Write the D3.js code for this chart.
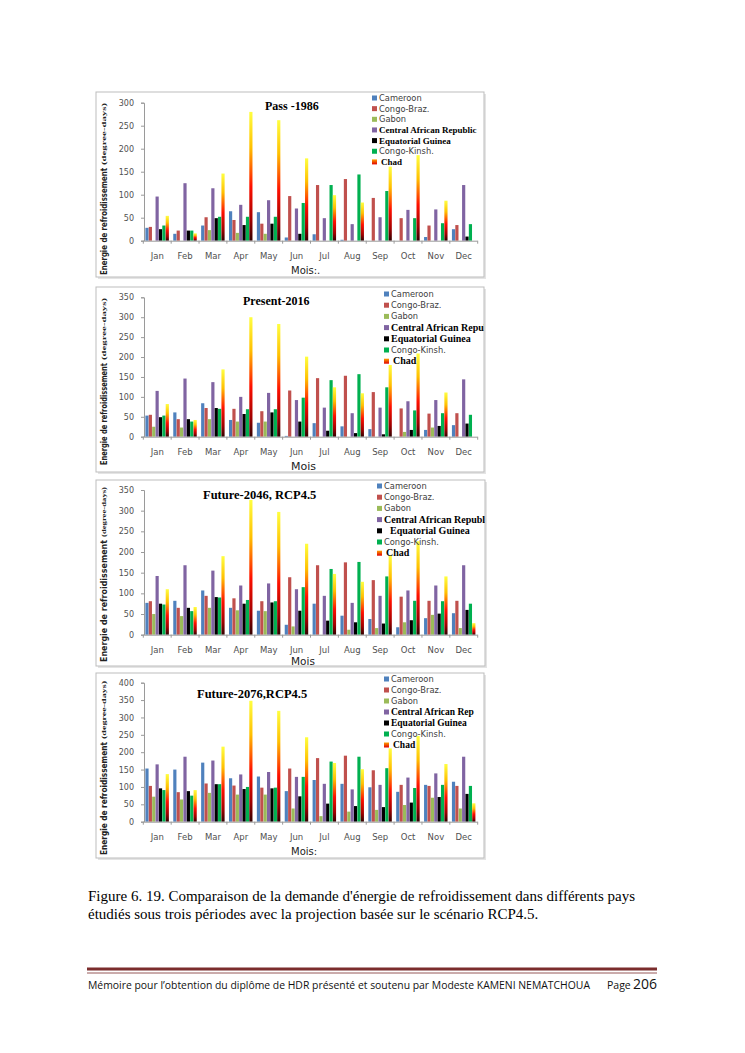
<!DOCTYPE html>
<html>
<head>
<meta charset="utf-8">
<script src="https://cdn.jsdelivr.net/npm/d3@7"></script>
<style>
  body { margin: 0; background: #fff; }
  .tick text { font-family: "DejaVu Sans", sans-serif; font-size: 8px; fill: #505050; }
  .domain, .tick line { stroke: #9a9a9a; }
</style>
</head>
<body>
<div id="page"></div>
<script>
// categories
var months = ["Jan", "Feb", "Mar", "Apr", "May", "Jun", "Jul", "Aug", "Sep", "Oct", "Nov", "Dec"];
var countries = ["Cameroon", "Congo-Braz.", "Gabon", "Central African Republic", "Equatorial Guinea", "Congo-Kinsh.", "Chad"];
var countries2076 = ["Cameroon", "Congo-Braz.", "Gabon", "Central African Rep", "Equatorial Guinea", "Congo-Kinsh.", "Chad"];

// values (degree-days), one row per country in the order above
var pass1986 = [
  [28, 15, 33, 64, 62, 7, 14, 2, 0, 0, 8, 25],
  [30, 22, 51, 45, 37, 97, 121, 134, 93, 49, 33, 34],
  [0, 0, 23, 17, 15, 0, 0, 0, 0, 0, 0, 0],
  [96, 125, 114, 78, 88, 70, 49, 36, 51, 67, 68, 121],
  [25, 22, 49, 34, 37, 15, 0, 0, 0, 0, 0, 9],
  [33, 22, 52, 52, 52, 82, 121, 144, 108, 49, 38, 36],
  [54, 16, 146, 280, 262, 179, 99, 83, 161, 186, 87, 0]
];
var present2016 = [
  [53, 61, 84, 42, 35, 2, 34, 26, 19, 0, 17, 29],
  [55, 44, 72, 70, 64, 116, 147, 153, 112, 71, 58, 59],
  [25, 23, 44, 38, 38, 0, 0, 0, 0, 12, 23, 0],
  [115, 146, 137, 100, 110, 92, 73, 59, 73, 89, 92, 144],
  [49, 44, 72, 57, 61, 38, 15, 9, 6, 17, 27, 33],
  [53, 38, 70, 69, 69, 98, 142, 157, 124, 66, 59, 55],
  [82, 42, 169, 300, 283, 201, 124, 109, 180, 209, 111, 0]
];
var future2046 = [
  [77, 82, 107, 65, 58, 24, 75, 46, 38, 18, 40, 52],
  [81, 65, 94, 88, 81, 139, 168, 175, 132, 92, 82, 82],
  [50, 45, 65, 59, 57, 20, 0, 12, 16, 30, 48, 16],
  [142, 168, 155, 119, 124, 110, 94, 77, 94, 107, 119, 168],
  [75, 65, 91, 75, 78, 58, 34, 30, 27, 35, 51, 60],
  [73, 57, 90, 84, 81, 115, 159, 176, 141, 82, 81, 75],
  [110, 67, 190, 326, 297, 220, 147, 128, 192, 226, 141, 28]
];
var future2076 = [
  [153, 150, 170, 125, 130, 88, 120, 109, 99, 86, 106, 115],
  [103, 85, 110, 104, 98, 153, 183, 190, 148, 106, 103, 103],
  [72, 64, 83, 78, 78, 38, 16, 29, 34, 48, 69, 38],
  [165, 187, 176, 136, 143, 129, 109, 93, 106, 127, 139, 187],
  [96, 88, 108, 94, 96, 73, 52, 45, 42, 55, 71, 80],
  [91, 75, 108, 100, 98, 129, 173, 187, 154, 97, 106, 103],
  [137, 91, 216, 348, 319, 243, 169, 151, 211, 247, 166, 53]
];

// tick labels
var ticks300 = [0, 50, 100, 150, 200, 250, 300];
var ticks350 = [0, 50, 100, 150, 200, 250, 300, 350];
var ticks400 = [0, 50, 100, 150, 200, 250, 300, 350, 400];

var colors = ["#4F81BD", "#C0504D", "#9BBB59", "#8064A2", "#000000", "#00B050", "url(#chadGrad)"];
var serifLabels = [false, false, false, true, true, false, true];

var svg = d3.select("#page")
  .append("svg")
  .attr("width", 745)
  .attr("height", 1053);

svg.append("rect").attr("width", 745).attr("height", 1053).attr("fill", "#fff");

var defs = svg.append("defs");

// Chad bars: yellow top -> red -> dark bottom
var grad = defs.append("linearGradient")
  .attr("id", "chadGrad")
  .attr("x1", 0).attr("y1", 0).attr("x2", 0).attr("y2", 1);
[["0%", "#FFFF40"], ["28%", "#FFC000"], ["58%", "#FF1000"], ["84%", "#A00000"], ["100%", "#300000"]]
  .forEach(function(s) {
    grad.append("stop").attr("offset", s[0]).attr("stop-color", s[1]);
  });

var legGrad = defs.append("linearGradient")
  .attr("id", "chadLeg")
  .attr("x1", 0).attr("y1", 0).attr("x2", 0).attr("y2", 1);
legGrad.append("stop").attr("offset", "0%").attr("stop-color", "#FFA000");
legGrad.append("stop").attr("offset", "100%").attr("stop-color", "#E00000");

// panel layout
var panels = [
  { title: "Pass -1986", data: pass1986, ticks: ticks300, names: countries,
    box: [96, 92, 484, 277], y0: 240.7, yTop: 102.7, titleX: 265, titleY: 110, titleSize: 12,
    legX: 372, legY: 98, legStep: 10.65, serifSize: 9, mois: "Mois:.", moisY: 274, moisSize: 10,
    labBottom: 275, labLen: 107, smallLen: 62 },
  { title: "Present-2016", data: present2016, ticks: ticks350, names: countries,
    box: [96, 287, 484, 472], y0: 436.7, yTop: 297.3, titleX: 243, titleY: 305, titleSize: 12,
    legX: 384, legY: 294, legStep: 11.2, serifSize: 10, mois: "Mois", moisY: 470, moisSize: 11,
    labBottom: 465, labLen: 102, smallLen: 62 },
  { title: "Future-2046, RCP4.5", data: future2046, ticks: ticks350, names: countries,
    box: [96, 480, 485, 666], y0: 634.7, yTop: 490, titleX: 203, titleY: 499, titleSize: 12.5,
    legX: 377, legY: 486, legStep: 11.2, serifSize: 10, mois: "Mois", moisY: 665, moisSize: 10.5,
    labBottom: 662, labLen: 122, smallLen: 50 },
  { title: "Future-2076,RCP4.5", data: future2076, ticks: ticks400, names: countries2076,
    box: [96, 673, 484, 858], y0: 821.7, yTop: 682.7, titleX: 197, titleY: 698, titleSize: 12.5,
    legX: 384, legY: 679, legStep: 11.0, serifSize: 9.5, mois: "Mois:", moisY: 855, moisSize: 10,
    labBottom: 855, labLen: 113, smallLen: 58 }
];

var axisX = 144;
var plotRight = 477;

panels.forEach(function(p, pi) {
  var b = p.box;

  // frame with a light shadow
  svg.append("rect")
    .attr("x", b[0] + 2).attr("y", b[1] + 2)
    .attr("width", b[2] - b[0]).attr("height", b[3] - b[1])
    .attr("fill", "#e4e4e4");
  svg.append("rect")
    .attr("x", b[0]).attr("y", b[1])
    .attr("width", b[2] - b[0]).attr("height", b[3] - b[1])
    .attr("fill", "#fff")
    .attr("stroke", "#bdbdbd");

  defs.append("clipPath").attr("id", "clip" + pi)
    .append("rect")
    .attr("x", b[0]).attr("y", b[1])
    .attr("width", b[2] - b[0]).attr("height", b[3] - b[1]);

  var g = svg.append("g").attr("clip-path", "url(#clip" + pi + ")");

  var maxV = p.ticks[p.ticks.length - 1];
  var y = d3.scaleLinear().domain([0, maxV]).range([p.y0, p.yTop]);
  var x0 = d3.scaleBand().domain(months).range([axisX, plotRight])
    .paddingInner(0.15).paddingOuter(0.05);
  var x1 = d3.scaleBand().domain(d3.range(countries.length)).range([0, x0.bandwidth()]);

  // bars
  var rows = [];
  p.data.forEach(function(vals, ci) {
    vals.forEach(function(v, mi) {
      rows.push({ c: ci, m: months[mi], v: v });
    });
  });
  g.append("g").selectAll("rect")
    .data(rows.filter(d => d.v > 0))
    .enter()
    .append("rect")
    .attr("x", d => x0(d.m) + x1(d.c))
    .attr("y", d => y(d.v))
    .attr("width", x1.bandwidth() - 0.2)
    .attr("height", d => p.y0 - y(d.v))
    .attr("fill", d => colors[d.c]);

  // y axis
  g.append("g")
    .attr("transform", `translate(${axisX},0)`)
    .call(d3.axisLeft(y).tickValues(p.ticks).tickSize(3).tickPadding(7));

  // x axis with boundary ticks
  var xAxis = g.append("g")
    .attr("transform", `translate(0,${p.y0})`)
    .call(d3.axisBottom(x0).tickSize(0).tickPadding(12));
  xAxis.selectAll(".tick text").style("font-size", "8.5px");
  var gap = (x0.step() - x0.bandwidth()) / 2;
  var bounds = months.map(m => x0(m) - gap).concat([x0(months[11]) + x0.bandwidth() + gap]);
  g.append("g").selectAll("line")
    .data(bounds)
    .enter()
    .append("line")
    .attr("x1", d => d).attr("x2", d => d)
    .attr("y1", p.y0).attr("y2", p.y0 + 3)
    .attr("stroke", "#9a9a9a");

  // title
  g.append("text")
    .attr("x", p.titleX).attr("y", p.titleY)
    .style("font-family", "'Liberation Serif', serif")
    .style("font-weight", "bold")
    .style("font-size", p.titleSize + "px")
    .text(p.title);

  // x label
  g.append("text")
    .attr("x", 291).attr("y", p.moisY)
    .style("font-family", "'DejaVu Sans', sans-serif")
    .style("font-size", p.moisSize + "px")
    .style("fill", "#222")
    .text(p.mois);

  // y label (rotated)
  g.append("text")
    .attr("transform", `translate(107,${p.labBottom}) rotate(-90)`)
    .attr("textLength", p.labLen)
    .attr("lengthAdjust", "spacingAndGlyphs")
    .style("font-family", "'DejaVu Sans', sans-serif")
    .style("font-weight", "bold")
    .style("font-size", "9.5px")
    .style("fill", "#222")
    .text("Energie de refroidissement");
  g.append("text")
    .attr("transform", `translate(106,${p.labBottom - p.labLen - 3}) rotate(-90)`)
    .attr("textLength", p.smallLen)
    .attr("lengthAdjust", "spacingAndGlyphs")
    .style("font-family", "'Liberation Serif', serif")
    .style("font-weight", "bold")
    .style("font-size", "6px")
    .style("fill", "#222")
    .text("(degree-days)");

  // legend
  var leg = g.append("g");
  p.names.forEach(function(name, i) {
    var ly = p.legY + i * p.legStep;
    leg.append("rect")
      .attr("x", p.legX).attr("y", ly - 2.5)
      .attr("width", 5).attr("height", 5)
      .attr("fill", i === 6 ? "url(#chadLeg)" : colors[i]);
    var t = leg.append("text")
      .attr("x", p.legX + 7 + (i === 4 && pi === 2 ? 6 : 0) + (i === 6 ? 2 : 0))
      .attr("y", ly + 3)
      .text(name);
    if (serifLabels[i]) {
      t.style("font-family", "'Liberation Serif', serif")
        .style("font-weight", "bold")
        .style("font-size", p.serifSize + "px")
        .style("fill", "#000");
    } else {
      t.style("font-family", "'DejaVu Sans', sans-serif")
        .style("font-size", "8.3px")
        .style("fill", "#404040");
    }
  });
});

// caption
var caption = ["Figure 6. 19. Comparaison de la demande d'énergie de refroidissement dans différents pays",
  "étudiés sous trois périodes avec la projection basée sur le scénario RCP4.5."];
caption.forEach(function(line, i) {
  svg.append("text")
    .attr("x", 88).attr("y", 901 + i * 18)
    .style("font-family", "'Liberation Serif', serif")
    .style("font-size", "15px")
    .style("fill", "#000")
    .text(line);
});

// footer
svg.append("line")
  .attr("x1", 87).attr("x2", 657).attr("y1", 969).attr("y2", 969)
  .attr("stroke", "#7b2d2d").attr("stroke-width", 3);
svg.append("line")
  .attr("x1", 87).attr("x2", 657).attr("y1", 973).attr("y2", 973)
  .attr("stroke", "#7b2d2d").attr("stroke-width", 0.8);
svg.append("text")
  .attr("x", 88).attr("y", 989)
  .attr("textLength", 502)
  .attr("lengthAdjust", "spacingAndGlyphs")
  .style("font-family", "'Open Sans', sans-serif")
  .style("font-size", "10.5px")
  .style("fill", "#111")
  .text("Mémoire  pour l’obtention du diplôme de HDR présenté et soutenu  par Modeste KAMENI NEMATCHOUA");
svg.append("text")
  .attr("x", 607).attr("y", 989)
  .style("font-family", "'Open Sans', sans-serif")
  .style("font-size", "10.5px")
  .style("fill", "#111")
  .text("Page");
svg.append("text")
  .attr("x", 633).attr("y", 989)
  .style("font-family", "'Open Sans', sans-serif")
  .style("font-size", "14px")
  .style("fill", "#111")
  .text("206");
</script>
</body>
</html>
